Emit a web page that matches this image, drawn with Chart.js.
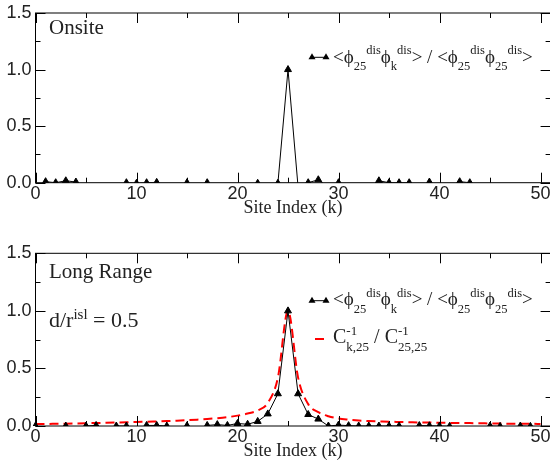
<!DOCTYPE html>
<html>
<head>
<meta charset="utf-8">
<script src="https://cdn.jsdelivr.net/npm/chart.js@4/dist/chart.umd.min.js"></script>
<style>
  html, body { margin: 0; padding: 0; background: #fff; overflow: hidden; }
  #wrap { position: relative; width: 550px; height: 469px; overflow: hidden; }
  canvas { position: absolute; left: 0; }
</style>
</head>
<body>
<div id="wrap">
  <canvas id="arriba" width="560" height="230" style="top:0"></canvas>
  <canvas id="abajo" width="560" height="229" style="top:240px"></canvas>
</div>
<script>
const sitios = [0, 1, 2, 3, 4, 5, 6, 7, 8, 9, 10, 11, 12, 13, 14, 15, 16, 17, 18, 19, 20,
  21, 22, 23, 24, 25, 26, 27, 28, 29, 30, 31, 32, 33, 34, 35, 36, 37, 38, 39, 40,
  41, 42, 43, 44, 45, 46, 47, 48, 49, 50];

// <phi25 phik> / <phi25 phi25>, onsite disorder (negatives fall under the axis)
const onsite = [-0.04, 0.009, 0.0, 0.017, 0.006, -0.04, -0.06, -0.05, -0.04, 0.0, -0.005,
  0.0, 0.003, -0.04, -0.05, 0.0, -0.04, 0.0, -0.05, -0.06, -0.05,
  -0.04, -0.005, -0.04, -0.005, 1.0, -0.04, 0.0, 0.026, -0.04, 0.0,
  -0.04, -0.05, -0.04, 0.017, 0.0, 0.0, 0.0, -0.04, 0.006, -0.04,
  -0.04, 0.009, 0.0, -0.04, -0.05, -0.06, -0.05, -0.04, -0.05, -0.04];

// same ratio, long range disorder
const largoAlcance = [0.0, -0.04, -0.05, 0.0, -0.04, 0.0, 0.005, -0.04, 0.0, 0.0, -0.04,
  0.005, 0.005, 0.0, -0.04, 0.002, -0.04, 0.005, 0.012, 0.005, 0.022,
  0.015, 0.04, 0.105, 0.28, 1.0, 0.28, 0.1, 0.06, 0.0, 0.008,
  0.003, 0.0, 0.0, 0.0, 0.0, 0.0, -0.04, 0.004, 0.002, 0.0,
  -0.003, -0.04, -0.05, -0.04, 0.0, -0.003, -0.04, 0.0, -0.003, -0.04];

// C^-1_{k,25} / C^-1_{25,25}
const inversaC = [0.017, 0.018, 0.019, 0.02, 0.022, 0.024, 0.026, 0.028, 0.03, 0.032, 0.035,
  0.037, 0.04, 0.043, 0.046, 0.05, 0.055, 0.061, 0.068, 0.077, 0.09,
  0.108, 0.135, 0.2, 0.42, 1.0, 0.42, 0.19, 0.12, 0.085, 0.065,
  0.055, 0.048, 0.043, 0.04, 0.037, 0.035, 0.033, 0.031, 0.03, 0.028,
  0.027, 0.026, 0.025, 0.024, 0.022, 0.021, 0.02, 0.019, 0.019, 0.018];

const ticksX = [0, 10, 20, 30, 40, 50];
const ticksY = [0, 0.5, 1.0, 1.5];

const SERIF = '"Liberation Serif", "DejaVu Serif", serif';

function textoRico(ctx, x, y, partes, tam, chico) {
  ctx.textAlign = 'left';
  ctx.textBaseline = 'alphabetic';
  partes.forEach(function (p) {
    if (typeof p === 'string') {
      ctx.font = tam + 'px ' + SERIF;
      ctx.fillText(p, x, y);
      x += ctx.measureText(p).width;
    } else {
      ctx.font = chico + 'px ' + SERIF;
      let w = 0;
      if (p.sup) {
        ctx.fillText(p.sup, x, y - 8.5);
        w = ctx.measureText(p.sup).width;
      }
      if (p.sub) {
        ctx.fillText(p.sub, x, y + 7.5);
        w = Math.max(w, ctx.measureText(p.sub).width);
      }
      x += w;
    }
  });
}

function trianguloLeyenda(ctx, x1, x2, y) {
  ctx.strokeStyle = '#000';
  ctx.lineWidth = 1;
  ctx.beginPath();
  ctx.moveTo(x1, y);
  ctx.lineTo(x2, y);
  ctx.stroke();
  [x1, x2].forEach(function (x) {
    ctx.beginPath();
    ctx.moveTo(x, y - 4);
    ctx.lineTo(x + 3.5, y + 2);
    ctx.lineTo(x - 3.5, y + 2);
    ctx.closePath();
    ctx.fill();
  });
}

function marco(chart) {
  const ctx = chart.ctx;
  const a = chart.chartArea;
  const sx = chart.scales.x;
  const sy = chart.scales.y;
  ctx.save();
  ctx.strokeStyle = '#000';
  ctx.lineWidth = 1;
  ctx.strokeRect(a.left, a.top, a.right - a.left, a.bottom - a.top);
  ctx.beginPath();
  for (let v = 0; v <= 50; v += 5) {
    const px = Math.round(sx.getPixelForValue(v)) + 0.5;
    const l = v % 10 === 0 ? 10 : 5;
    ctx.moveTo(px, a.bottom); ctx.lineTo(px, a.bottom - l);
    ctx.moveTo(px, a.top); ctx.lineTo(px, a.top + l);
  }
  for (let v = 0; v <= 1.5; v += 0.25) {
    const py = Math.round(sy.getPixelForValue(v)) + 0.5;
    const l = Math.abs(v * 2 - Math.round(v * 2)) < 1e-6 ? 10 : 5;
    ctx.moveTo(a.left, py); ctx.lineTo(a.left + l, py);
    ctx.moveTo(a.right, py); ctx.lineTo(a.right - l, py);
  }
  ctx.stroke();
  ctx.fillStyle = '#222';
  ctx.font = '18px ' + SERIF;
  ctx.textAlign = 'center';
  ctx.fillText('Site Index (k)', 293, a.bottom + 30);
  ctx.restore();
}

const leyenda1 = ['<\u03d5', { sub: '25' }, { sup: 'dis' }, '\u03d5', { sub: 'k' }, { sup: 'dis' },
  '> / <\u03d5', { sub: '25' }, { sup: 'dis' }, '\u03d5', { sub: '25' }, { sup: 'dis' }, '>'];
const leyenda2 = ['C', { sup: '-1', sub: 'k,25' }, ' / C', { sup: '-1', sub: '25,25' }];

function opcionesBase(padTop, altoX) {
  return {
    responsive: false,
    animation: false,
    events: [],
    layout: { padding: { top: padTop, left: 0, right: 9.4, bottom: 0 } },
    plugins: { legend: { display: false }, tooltip: { enabled: false } },
    scales: {
      x: {
        type: 'linear', min: 0, max: 51,
        grid: { display: false, drawTicks: false },
        border: { display: false },
        afterFit: function (s) { s.height = altoX; },
        ticks: {
          stepSize: 10, includeBounds: false, padding: 2,
          color: '#222', font: { family: '"Liberation Sans", Arial, sans-serif', size: 18, lineHeight: 1 },
          maxRotation: 0, autoSkip: false,
          callback: function (v) { return ticksX.indexOf(v) >= 0 ? String(v) : ''; }
        }
      },
      y: {
        min: 0, max: 1.5,
        grid: { display: false, drawTicks: false },
        border: { display: false },
        afterFit: function (s) { s.width = 35.5; },
        ticks: {
          stepSize: 0.5, includeBounds: false, padding: 4,
          color: '#222', font: { family: '"Liberation Sans", Arial, sans-serif', size: 18, lineHeight: 1 },
          callback: function (v) { return ticksY.indexOf(v) >= 0 ? v.toFixed(1) : ''; }
        }
      }
    }
  };
}

const recorte = { left: 8, right: 8, top: 8, bottom: 0 };

function serieTriangulos(valores) {
  return {
    data: sitios.map(function (k, i) { return { x: k, y: valores[i] }; }),
    borderColor: '#000', backgroundColor: '#000',
    borderWidth: 1, pointStyle: 'triangle', pointRadius: 4,
    pointBorderWidth: 1, tension: 0, clip: recorte
  };
}

new Chart(document.getElementById('arriba'), {
  type: 'line',
  data: { datasets: [serieTriangulos(onsite)] },
  options: opcionesBase(9, 230 - 182.7),
  plugins: [{
    id: 'anotArriba',
    afterDraw: function (chart) {
      marco(chart);
      const ctx = chart.ctx;
      ctx.save();
      ctx.fillStyle = '#222';
      ctx.font = '21px ' + SERIF;
      ctx.fillText('Onsite', 49, 34);
      ctx.fillStyle = '#000';
      trianguloLeyenda(ctx, 312, 326, 57.3);
      ctx.fillStyle = '#222';
      textoRico(ctx, 333, 62.5, leyenda1, 19, 12.5);
      ctx.restore();
    }
  }]
});

new Chart(document.getElementById('abajo'), {
  type: 'line',
  data: {
    datasets: [
      serieTriangulos(largoAlcance),
      {
        data: sitios.map(function (k, i) { return { x: k, y: inversaC[i] }; }),
        borderColor: '#ff0000', borderWidth: 2, borderDash: [9, 5],
        pointRadius: 0, cubicInterpolationMode: 'monotone', clip: recorte
      }
    ]
  },
  options: opcionesBase(13.3, 229 - 186),
  plugins: [{
    id: 'anotAbajo',
    afterDraw: function (chart) {
      marco(chart);
      const ctx = chart.ctx;
      ctx.save();
      ctx.fillStyle = '#222';
      ctx.font = '21px ' + SERIF;
      ctx.fillText('Long Range', 49, 38.3);
      textoRico(ctx, 49, 87.3, ['d/r', { sup: 'isl' }, ' = 0.5'], 22, 15);
      ctx.fillStyle = '#000';
      trianguloLeyenda(ctx, 312, 326, 60.7);
      ctx.fillStyle = '#222';
      textoRico(ctx, 333, 65, leyenda1, 19, 12.5);
      ctx.strokeStyle = '#ff0000';
      ctx.lineWidth = 2;
      ctx.beginPath();
      ctx.moveTo(315, 99);
      ctx.lineTo(324, 99);
      ctx.stroke();
      textoRico(ctx, 333, 103, leyenda2, 20, 13);
      ctx.restore();
    }
  }]
});
</script>
</body>
</html>
